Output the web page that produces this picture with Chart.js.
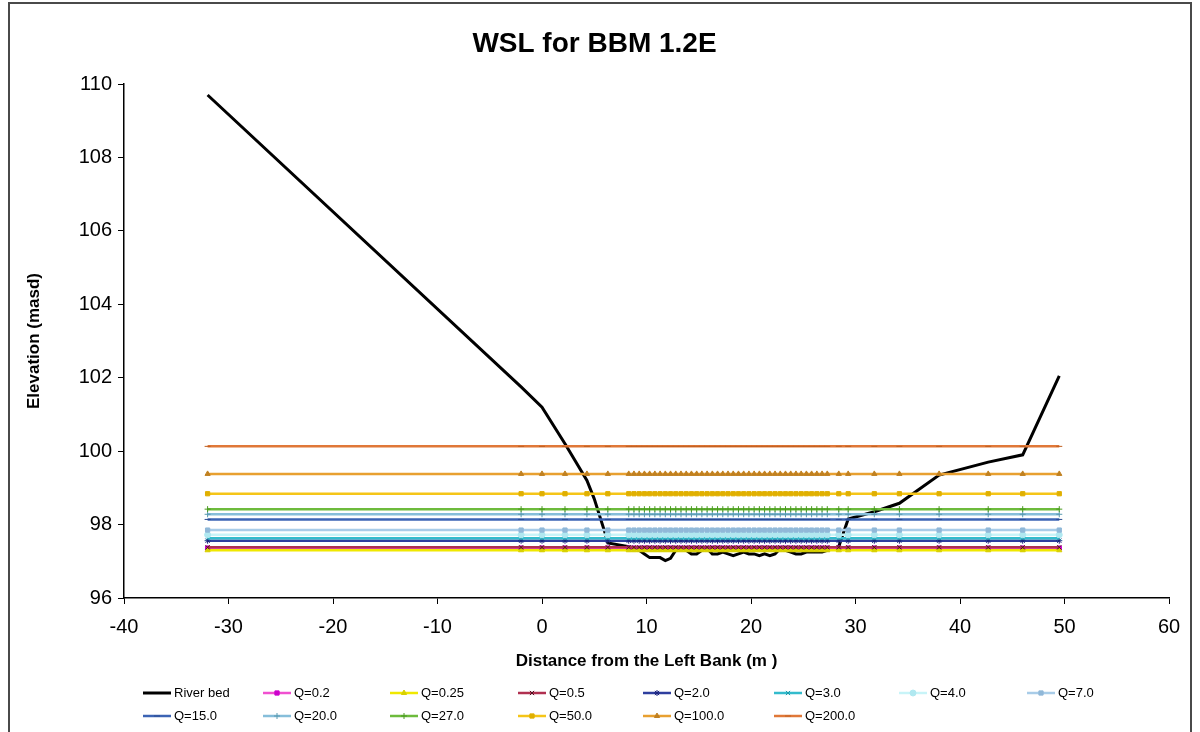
<!DOCTYPE html>
<html><head><meta charset="utf-8">
<script src="https://cdn.jsdelivr.net/npm/chart.js@4.4.0/dist/chart.umd.min.js"></script>
<style>html,body{margin:0;padding:0;background:#fff;}canvas{display:block;}</style>
</head><body>
<canvas id="c" width="1200" height="732"></canvas>
<script>
// ---- DATA ----
const bedX = [-32, -2, 0, 2.2, 4.3, 5, 6, 6.3, 8.3, 8.8, 9.3, 9.8, 10.3, 10.8, 11.3, 11.8, 12.3, 12.8, 13.3, 13.8, 14.3, 14.8, 15.3, 15.8, 16.3, 16.8, 17.3, 17.8, 18.3, 18.8, 19.3, 19.8, 20.3, 20.8, 21.3, 21.8, 22.3, 22.8, 23.3, 23.8, 24.3, 24.8, 25.3, 25.8, 26.3, 26.8, 27.3, 28.4, 29.3, 31.8, 34.2, 38, 42.7, 46, 49.5];
const bedY = [109.7, 101.75, 101.2, 100.2, 99.2, 98.7, 97.8, 97.5, 97.4, 97.35, 97.3, 97.2, 97.1, 97.1, 97.1, 97.02, 97.08, 97.3, 97.35, 97.3, 97.2, 97.2, 97.3, 97.35, 97.2, 97.2, 97.25, 97.2, 97.15, 97.2, 97.25, 97.2, 97.2, 97.15, 97.2, 97.15, 97.2, 97.35, 97.3, 97.25, 97.2, 97.2, 97.25, 97.25, 97.25, 97.25, 97.3, 97.4, 98.15, 98.35, 98.58, 99.35, 99.7, 99.9, 102.05];
const stationX = [-32, -2, 0, 2.2, 4.3, 6.3, 8.3, 8.8, 9.3, 9.8, 10.3, 10.8, 11.3, 11.8, 12.3, 12.8, 13.3, 13.8, 14.3, 14.8, 15.3, 15.8, 16.3, 16.8, 17.3, 17.8, 18.3, 18.8, 19.3, 19.8, 20.3, 20.8, 21.3, 21.8, 22.3, 22.8, 23.3, 23.8, 24.3, 24.8, 25.3, 25.8, 26.3, 26.8, 27.3, 28.4, 29.3, 31.8, 34.2, 38, 42.7, 46, 49.5];
const flowLabels = ['Q=0.2', 'Q=0.25', 'Q=0.5', 'Q=2.0', 'Q=3.0', 'Q=4.0', 'Q=7.0', 'Q=15.0', 'Q=20.0', 'Q=27.0', 'Q=50.0', 'Q=100.0', 'Q=200.0'];
const waterLevels = [97.36, 97.3, 97.38, 97.56, 97.63, 97.72, 97.85, 98.14, 98.28, 98.42, 98.84, 99.38, 100.13];
const xTickValues = [-40, -30, -20, -10, 0, 10, 20, 30, 40, 50, 60];
const yTickValues = [96, 98, 100, 102, 104, 106, 108, 110];

// ---- STYLES ----
const lineColors = ['#F050D0', '#F0E800', '#B03050', '#2E3E9E', '#33BBCC', '#C8F4F8', '#A8CCE8', '#3C64B4', '#86BEDA', '#6DBB3C', '#F5C518', '#E8A030', '#E07838'];
const markColors = ['#CC00CC', '#D8D000', '#501020', '#1A237E', '#1A9AAA', '#B0E8F0', '#90B8D8', '#2A4A90', '#5A9AB0', '#4A9A20', '#E0B000', '#C08020', '#C06020'];
const markStyles = ['rect', 'triangle', 'crossRot', 'star', 'crossRot', 'circle', 'rect', 'line', 'cross', 'cross', 'rect', 'triangle', 'line'];
const legendColX = [143, 263, 390, 518, 643, 774, 899, 1027];
const legendRowY = [693, 716];
const FONT = '"Liberation Sans", Arial, sans-serif';

const datasets = [{
  label: 'River bed',
  data: bedX.map((x, i) => ({x, y: bedY[i]})),
  borderColor: '#000', backgroundColor: '#000', borderWidth: 3,
  pointRadius: 0, showLine: true, tension: 0, order: 0
}];
flowLabels.forEach((lab, k) => {
  datasets.push({
    label: lab,
    data: stationX.map(x => ({x, y: waterLevels[k]})),
    borderColor: lineColors[k], backgroundColor: markColors[k],
    pointBorderColor: markColors[k], pointBackgroundColor: markColors[k],
    borderWidth: 2.5, pointRadius: 3, pointBorderWidth: 1, pointStyle: markStyles[k],
    showLine: true, tension: 0, order: -1 - k
  });
});

const legendAndFrame = {
  id: 'legendAndFrame',
  afterDraw(chart) {
    const ctx = chart.ctx;
    ctx.save();
    ctx.strokeStyle = '#4a4a4a'; ctx.lineWidth = 2;
    ctx.strokeRect(9, 3, 1182, 780);
    chart.data.datasets.forEach((ds, i) => {
      const row = i < 8 ? 0 : 1, col = i < 8 ? i : i - 8;
      const x = legendColX[col], y = legendRowY[row];
      ctx.strokeStyle = ds.borderColor; ctx.lineWidth = ds.borderWidth;
      ctx.beginPath(); ctx.moveTo(x, y); ctx.lineTo(x + 28, y); ctx.stroke();
      if (ds.pointRadius > 0) {
        ctx.fillStyle = ds.pointBackgroundColor; ctx.strokeStyle = ds.pointBorderColor; ctx.lineWidth = 1;
        Chart.helpers.drawPoint(ctx, {pointStyle: ds.pointStyle, radius: 3, borderWidth: 1, rotation: 0}, x + 14, y);
      }
      ctx.fillStyle = '#000'; ctx.font = '13px ' + FONT; ctx.textBaseline = 'middle'; ctx.textAlign = 'left';
      ctx.fillText(ds.label, x + 31, y);
    });
    ctx.restore();
  }
};

new Chart(document.getElementById('c'), {
  type: 'scatter',
  data: {datasets},
  plugins: [legendAndFrame],
  options: {
    responsive: false, animation: false, devicePixelRatio: 1,
    layout: {padding: {left: 20, right: 31, top: 10, bottom: 56}},
    plugins: {
      legend: {display: false}, tooltip: {enabled: false},
      title: {display: true, text: 'WSL for BBM 1.2E', color: '#000',
        font: {family: FONT, size: 28, weight: 'bold'}, padding: {top: 17, bottom: 23.4}}
    },
    scales: {
      x: {
        type: 'linear', min: -40, max: 60,
        afterBuildTicks: s => { s.ticks = xTickValues.map(v => ({value: v})); },
        afterFit: s => { s.height = 78; },
        ticks: {color: '#000', font: {family: FONT, size: 20}, padding: 11},
        grid: {drawOnChartArea: false, drawTicks: true, tickLength: 6, color: '#000'},
        border: {color: '#000', width: 1.5},
        title: {display: true, text: 'Distance from the Left Bank (m )', color: '#000',
          font: {family: FONT, size: 17, weight: 'bold'}, padding: {top: 0, bottom: 4}}
      },
      y: {
        type: 'linear', min: 96, max: 110,
        afterBuildTicks: s => { s.ticks = yTickValues.map(v => ({value: v})); },
        afterFit: s => { s.width = 104; },
        ticks: {color: '#000', font: {family: FONT, size: 20}, padding: 6},
        grid: {drawOnChartArea: false, drawTicks: true, tickLength: 6, color: '#000'},
        border: {color: '#000', width: 1.5},
        title: {display: true, text: 'Elevation (masd)', color: '#000',
          font: {family: FONT, size: 17, weight: 'bold'}, padding: {top: 4, bottom: 0}}
      }
    }
  }
});
</script>
</body></html>
